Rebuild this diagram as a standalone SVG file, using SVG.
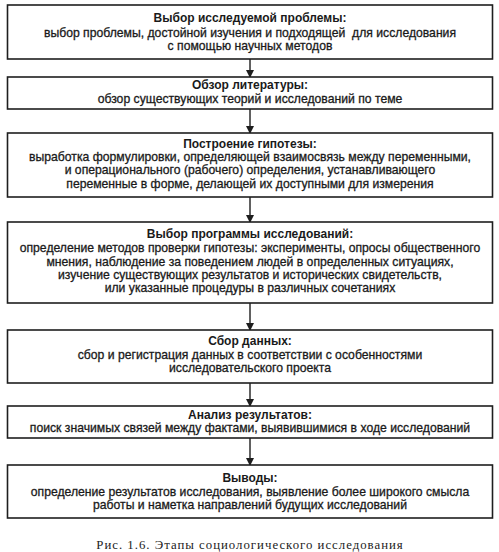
<svg xmlns="http://www.w3.org/2000/svg" width="499" height="552" viewBox="0 0 499 552">
<defs>
<style>
.box{fill:#fff;stroke:#1e1e1e;stroke-width:1.6}
.t{font-family:"Liberation Sans",Arial,sans-serif;font-size:12px;font-weight:bold;fill:#1a1a1a;text-anchor:middle}
.b{font-family:"Liberation Sans",Arial,sans-serif;font-size:12.2px;fill:#1a1a1a;text-anchor:middle;stroke:#1a1a1a;stroke-width:0.3}
.cap{font-family:"Liberation Serif","Times New Roman",serif;font-size:12.8px;fill:#222;text-anchor:middle;letter-spacing:1px}
.ln{stroke:#1e1e1e;stroke-width:1.4;fill:none}
</style>
<marker id="ah" markerWidth="8" markerHeight="8" refX="7" refY="4" orient="auto" markerUnits="userSpaceOnUse">
<path d="M0,0 L8,4 L0,8 z" fill="#1e1e1e"/>
</marker>
</defs>
<rect width="499" height="552" fill="#fff"/>
<g id="connectors">
<line class="ln" x1="250" y1="59" x2="250" y2="77" marker-end="url(#ah)"/>
<line class="ln" x1="250" y1="109" x2="250" y2="133" marker-end="url(#ah)"/>
<line class="ln" x1="250" y1="197" x2="250" y2="222" marker-end="url(#ah)"/>
<line class="ln" x1="250" y1="303" x2="250" y2="330" marker-end="url(#ah)"/>
<line class="ln" x1="250" y1="383" x2="250" y2="406" marker-end="url(#ah)"/>
<line class="ln" x1="250" y1="438" x2="250" y2="465" marker-end="url(#ah)"/>
</g>
<g id="n1">
<rect class="box" x="7.5" y="5" width="485" height="54"/>
<text class="t" x="250" y="22">Выбор исследуемой проблемы:</text>
<text class="b" x="250" y="36.5">выбор проблемы, достойной изучения и подходящей&#160; для исследования</text>
<text class="b" x="250" y="49.5">с помощью научных методов</text>
</g>
<g id="n2">
<rect class="box" x="7.5" y="77" width="485" height="32"/>
<text class="t" x="250" y="89">Обзор литературы:</text>
<text class="b" x="250" y="103">обзор существующих теорий и исследований по теме</text>
</g>
<g id="n3">
<rect class="box" x="7.5" y="133" width="485" height="64"/>
<text class="t" x="250" y="147.5">Построение гипотезы:</text>
<text class="b" x="250" y="161">выработка формулировки, определяющей взаимосвязь между переменными,</text>
<text class="b" x="250" y="174.3">и операционального (рабочего) определения, устанавливающего</text>
<text class="b" x="250" y="187.6">переменные в форме, делающей их доступными для измерения</text>
</g>
<g id="n4">
<rect class="box" x="7.5" y="222" width="485" height="81"/>
<text class="t" x="250" y="238">Выбор программы исследований:</text>
<text class="b" x="250" y="252.3">определение методов проверки гипотезы: эксперименты, опросы общественного</text>
<text class="b" x="250" y="265.6">мнения, наблюдение за поведением людей в определенных ситуациях,</text>
<text class="b" x="250" y="278.9">изучение существующих результатов и исторических свидетельств,</text>
<text class="b" x="250" y="292.2">или указанные процедуры в различных сочетаниях</text>
</g>
<g id="n5">
<rect class="box" x="7.5" y="330" width="485" height="53"/>
<text class="t" x="250" y="344.5">Сбор данных:</text>
<text class="b" x="250" y="359">сбор и регистрация данных в соответствии с особенностями</text>
<text class="b" x="250" y="372.3">исследовательского проекта</text>
</g>
<g id="n6">
<rect class="box" x="7.5" y="406" width="485" height="32"/>
<text class="t" x="250" y="418.5">Анализ результатов:</text>
<text class="b" x="250" y="432">поиск значимых связей между фактами, выявившимися в ходе исследований</text>
</g>
<g id="n7">
<rect class="box" x="7.5" y="465" width="485" height="53"/>
<text class="t" x="250" y="482">Выводы:</text>
<text class="b" x="250" y="496">определение результатов исследования, выявление более широкого смысла</text>
<text class="b" x="250" y="509.3">работы и наметка направлений будущих исследований</text>
</g>
<text class="cap" x="250" y="549">Рис. 1.6. Этапы социологического исследования</text>
</svg>
